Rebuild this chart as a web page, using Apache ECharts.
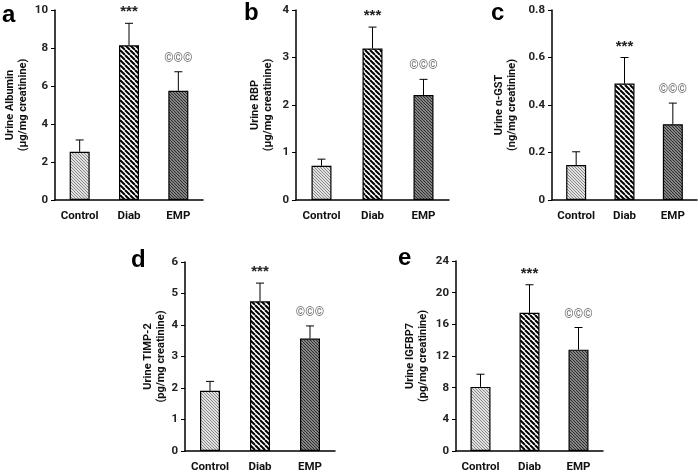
<!DOCTYPE html>
<html><head><meta charset="utf-8">
<script src="https://cdn.jsdelivr.net/npm/echarts@6/dist/echarts.min.js"></script>
<style>html,body{margin:0;padding:0;background:#fff}#c{width:698px;height:473px}</style>
</head><body><div id="c"></div>
<script>
const categories = ['Control', 'Diab', 'EMP'];
const annotations = ['', '***', '\u00A9\u00A9\u00A9'];
const albuminMean = [2.54, 8.14, 5.75];
const albuminErr = [0.62, 1.16, 1.0];
const rbpMean = [0.72, 3.19, 2.21];
const rbpErr = [0.14, 0.45, 0.33];
const gstMean = [0.147, 0.49, 0.319];
const gstErr = [0.056, 0.11, 0.089];
const timpMean = [1.91, 4.75, 3.57];
const timpErr = [0.30, 0.58, 0.40];
const igfbpMean = [8.1, 17.45, 12.8];
const igfbpErr = [1.6, 3.55, 2.8];

function makePattern(size, bg, fg, lw) {
  const c = document.createElement('canvas');
  c.width = size; c.height = size;
  const ctx = c.getContext('2d');
  ctx.fillStyle = bg; ctx.fillRect(0, 0, size, size);
  ctx.strokeStyle = fg; ctx.lineWidth = lw;
  for (let k = -1; k <= 1; k++) {
    ctx.beginPath();
    ctx.moveTo(k * size, 0);
    ctx.lineTo(k * size + size, size);
    ctx.stroke();
  }
  return { image: c, repeat: 'repeat' };
}
const fills = [
  makePattern(3, '#e2e2e2', '#888888', 1),
  makePattern(5, '#ffffff', '#000000', 2),
  makePattern(3, '#a0a0a0', '#2a2a2a', 1.1)
];

const panels = [
  { letter: 'a', name: 'Urine Albumin\n(\u00B5g/mg creatinine)', mean: albuminMean, err: albuminErr, max: 10, interval: 2, grid: { left: 55, top: 10, width: 148, height: 190 }, gap: 25, lx: 2, ly: 3 },
  { letter: 'b', name: 'Urine RBP\n(\u00B5g/mg creatinine)', mean: rbpMean, err: rbpErr, max: 4, interval: 1, grid: { left: 296, top: 10, width: 153, height: 190 }, gap: 21, lx: 244, ly: 1 },
  { letter: 'c', name: 'Urine \u03B1-GST\n(ng/mg creatinine)', mean: gstMean, err: gstErr, max: 0.8, interval: 0.2, grid: { left: 552, top: 10, width: 145, height: 190 }, gap: 33, lx: 491, ly: 1 },
  { letter: 'd', name: 'Urine TIMP-2\n(pg/mg creatinine)', mean: timpMean, err: timpErr, max: 6, interval: 1, grid: { left: 185, top: 262, width: 150, height: 189 }, gap: 13, lx: 131, ly: 248 },
  { letter: 'e', name: 'Urine IGFBP7\n(pg/mg creatinine)', mean: igfbpMean, err: igfbpErr, max: 24, interval: 4, grid: { left: 456, top: 261, width: 147, height: 190 }, gap: 26, lx: 398, ly: 246 }
];

const font = 'Roboto, Open Sans, sans-serif';
const option = { animation: false, grid: [], xAxis: [], yAxis: [], series: [], title: [] };
panels.forEach((p, i) => {
  option.grid.push(p.grid);
  option.title.push({ text: p.letter, left: p.lx, top: p.ly, padding: 0,
    textStyle: { fontSize: 24, fontWeight: 'bold', fontFamily: 'Liberation Sans, Arial', color: '#000' } });
  option.xAxis.push({ type: 'category', gridIndex: i, data: categories,
    axisLine: { lineStyle: { color: '#000', width: 1.5 } },
    axisTick: { alignWithLabel: true, length: 3, lineStyle: { color: '#000' } },
    axisLabel: { interval: 0, color: '#111', fontWeight: 'bold', fontSize: 11.5, fontFamily: font, margin: 10 } });
  option.yAxis.push({ type: 'value', gridIndex: i, min: 0, max: p.max, interval: p.interval,
    name: p.name, nameLocation: 'middle', nameRotate: 90, nameGap: p.gap,
    nameTextStyle: { color: '#111', fontWeight: 'bold', fontSize: 11, fontFamily: font, lineHeight: 13 },
    axisLine: { show: true, lineStyle: { color: '#000', width: 1.5 } },
    axisTick: { show: true, length: 4, lineStyle: { color: '#000' } },
    splitLine: { show: false },
    axisLabel: { color: '#222', fontWeight: 'bold', fontSize: 11.5, fontFamily: font, margin: 7 } });
  option.series.push({ type: 'bar', xAxisIndex: i, yAxisIndex: i, barWidth: 20,
    data: p.mean.map((v, k) => ({ value: v, itemStyle: { color: fills[k], borderColor: '#000', borderWidth: 1.2 } })) });
  option.series.push({ type: 'custom', xAxisIndex: i, yAxisIndex: i, z: 5,
    data: p.mean.map((v, k) => [k, v, p.err[k]]),
    renderItem: function (params, api) {
      const x = api.value(0), m = api.value(1), e = api.value(2);
      const p0 = api.coord([x, m]);
      const p1 = api.coord([x, m + e]);
      const ann = annotations[params.dataIndex];
      const children = [
        { type: 'line', shape: { x1: p0[0], y1: p0[1], x2: p1[0], y2: p1[1] }, style: { stroke: '#000', lineWidth: 1 } },
        { type: 'line', shape: { x1: p1[0] - 4, y1: p1[1], x2: p1[0] + 4, y2: p1[1] }, style: { stroke: '#000', lineWidth: 1 } }
      ];
      if (ann) {
        const star = ann === '***';
        children.push({ type: 'text', x: p1[0], y: p1[1] - (star ? 11 : 13),
          style: { text: ann, align: 'center', verticalAlign: 'middle',
            fill: star ? '#222' : '#777',
            font: star ? 'bold 15px Liberation Sans, Arial' : 'bold 12px ' + font } });
      }
      return { type: 'group', children: children };
    } });
});
const chart = echarts.init(document.getElementById('c'), null, { renderer: 'canvas' });
chart.setOption(option);
</script></body></html>
